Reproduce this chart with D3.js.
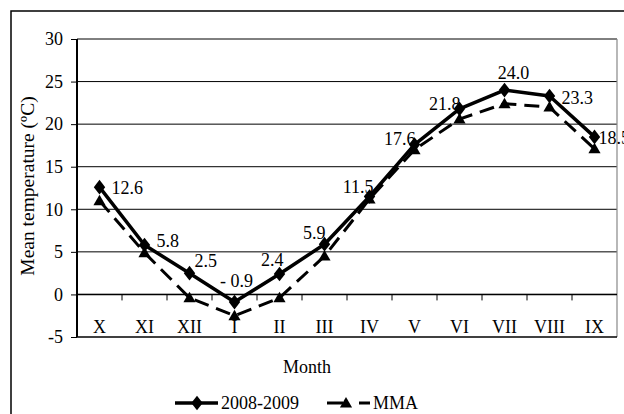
<!DOCTYPE html>
<html>
<head>
<meta charset="utf-8">
<script src="https://cdn.jsdelivr.net/npm/d3@7"></script>
<style>
  body { margin: 0; background: #fff; }
  text { font-family: "Liberation Serif", "Times New Roman", serif; fill: #000; }
</style>
</head>
<body>
<div id="viz"></div>
<script>
// chart data
var months = ["X", "XI", "XII", "I", "II", "III", "IV", "V", "VI", "VII", "VIII", "IX"];
var season0809 = [12.6, 5.8, 2.5, -0.9, 2.4, 5.9, 11.5, 17.6, 21.8, 24.0, 23.3, 18.5];
var mma = [11.0, 4.9, -0.4, -2.5, -0.4, 4.5, 11.2, 17.0, 20.6, 22.4, 22.0, 17.1];
var labels0809 = ["12.6", "5.8", "2.5", "- 0.9", "2.4", "5.9", "11.5", "17.6", "21.8", "24.0", "23.3", "18.5"];
var yTicks = [-5, 0, 5, 10, 15, 20, 25, 30];

// where each data label sits relative to its point [dx, dy, anchor]
var labelPos = [
  [12, 7, "start"], [12, 2, "start"], [5, -6, "start"], [2, -15, "middle"],
  [4, -8, "end"], [1, -5, "end"], [4, -4, "end"], [1, 0, "end"],
  [1, 1, "end"], [9, -11, "middle"], [12, 8, "start"], [4, 7, "start"]
];

(function () {
var width = 624, height = 414;
var pLeft = 77, pRight = 617, pTop = 39, pBottom = 337;

var svg = d3.select("#viz").append("svg")
  .attr("width", width)
  .attr("height", height);

// outer chart border
svg.append("rect")
  .attr("x", 11).attr("y", 11)
  .attr("width", 700).attr("height", 500)
  .attr("fill", "none").attr("stroke", "#000").attr("stroke-width", 1.5);

var x = d3.scaleBand().domain(months).range([pLeft, pRight]);
var y = d3.scaleLinear().domain([-5, 30]).range([pBottom, pTop]);
var cx = function (i) { return x(months[i]) + x.bandwidth() / 2; };

// gridlines
svg.append("g").selectAll("line")
  .data(yTicks.filter(function (d) { return d > -5; }))
  .enter().append("line")
  .attr("x1", pLeft).attr("x2", pRight)
  .attr("y1", function (d) { return y(d); })
  .attr("y2", function (d) { return y(d); })
  .attr("stroke", "#000").attr("stroke-width", 1);

// plot area right edge + bottom
svg.append("line")
  .attr("x1", pRight).attr("x2", pRight).attr("y1", pTop).attr("y2", pBottom)
  .attr("stroke", "#888").attr("stroke-width", 1.2);
svg.append("line")
  .attr("x1", pLeft).attr("x2", pRight).attr("y1", pBottom).attr("y2", pBottom)
  .attr("stroke", "#000").attr("stroke-width", 1.5);

// y axis
var yAxis = svg.append("g")
  .attr("transform", "translate(" + pLeft + ",0)")
  .call(d3.axisLeft(y).tickValues(yTicks).tickSize(6).tickPadding(8)
    .tickFormat(function (d) { return String(d); }));
yAxis.select(".domain").attr("stroke-width", 2).attr("d", "M0," + pTop + "V" + pBottom);
yAxis.selectAll("text").style("font-size", "18px").style("font-family", "Liberation Serif");

// x axis sits on zero
var xAxis = svg.append("g")
  .attr("transform", "translate(0," + y(0) + ")");
xAxis.append("line")
  .attr("x1", pLeft).attr("x2", pRight)
  .attr("stroke", "#000").attr("stroke-width", 1.5);
xAxis.selectAll(".tk")
  .data(months.slice(1))
  .enter().append("line")
  .attr("x1", function (d) { return x(d); })
  .attr("x2", function (d) { return x(d); })
  .attr("y1", 0).attr("y2", 6)
  .attr("stroke", "#000").attr("stroke-width", 1);

svg.append("g").selectAll("text")
  .data(months)
  .enter().append("text")
  .attr("x", function (d) { return x(d) + x.bandwidth() / 2; })
  .attr("y", 333)
  .attr("text-anchor", "middle")
  .style("font-size", "18px")
  .text(function (d) { return d; });

// series lines
var line = d3.line()
  .x(function (d, i) { return cx(i); })
  .y(function (d) { return y(d); });

svg.append("path")
  .attr("d", line(mma))
  .attr("fill", "none").attr("stroke", "#000")
  .attr("stroke-width", 3).attr("stroke-dasharray", "15,8");

var tri = d3.symbol().type(d3.symbolTriangle).size(64);
svg.append("g").selectAll("path")
  .data(mma)
  .enter().append("path")
  .attr("d", tri)
  .attr("transform", function (d, i) { return "translate(" + cx(i) + "," + (y(d) + 1) + ")"; })
  .attr("fill", "#000");

svg.append("path")
  .attr("d", line(season0809))
  .attr("fill", "none").attr("stroke", "#000")
  .attr("stroke-width", 3.5).attr("stroke-linejoin", "round");

var diamond = d3.symbol().type(d3.symbolDiamond).size(62);
svg.append("g").selectAll("path")
  .data(season0809)
  .enter().append("path")
  .attr("d", diamond)
  .attr("transform", function (d, i) { return "translate(" + cx(i) + "," + y(d) + ") scale(1.35,1)"; })
  .attr("fill", "#000");

// data labels
svg.append("g").selectAll("text")
  .data(season0809)
  .enter().append("text")
  .attr("x", function (d, i) { return cx(i) + labelPos[i][0]; })
  .attr("y", function (d, i) { return y(d) + labelPos[i][1]; })
  .attr("text-anchor", function (d, i) { return labelPos[i][2]; })
  .style("font-size", "18px")
  .text(function (d, i) { return labels0809[i]; });

// axis titles
svg.append("text")
  .attr("x", 307).attr("y", 373)
  .attr("text-anchor", "middle")
  .style("font-size", "18px")
  .text("Month");

svg.append("text")
  .attr("transform", "translate(34,186) rotate(-90)")
  .attr("text-anchor", "middle")
  .style("font-size", "19.5px")
  .text("Mean temperature (ºC)");

// legend
var lg = svg.append("g");
lg.append("line")
  .attr("x1", 175).attr("x2", 218).attr("y1", 403).attr("y2", 403)
  .attr("stroke", "#000").attr("stroke-width", 3.5);
lg.append("path")
  .attr("d", diamond)
  .attr("transform", "translate(197,403) scale(1.35,1)")
  .attr("fill", "#000");
lg.append("text")
  .attr("x", 221).attr("y", 409)
  .style("font-size", "18px")
  .text("2008-2009");

lg.append("line")
  .attr("x1", 327).attr("x2", 370).attr("y1", 403).attr("y2", 403)
  .attr("stroke", "#000").attr("stroke-width", 3).attr("stroke-dasharray", "16,16,11");
lg.append("path")
  .attr("d", tri)
  .attr("transform", "translate(346,404)")
  .attr("fill", "#000");
lg.append("text")
  .attr("x", 373).attr("y", 409)
  .style("font-size", "18px")
  .text("MMA");
})();
</script>
</body>
</html>
